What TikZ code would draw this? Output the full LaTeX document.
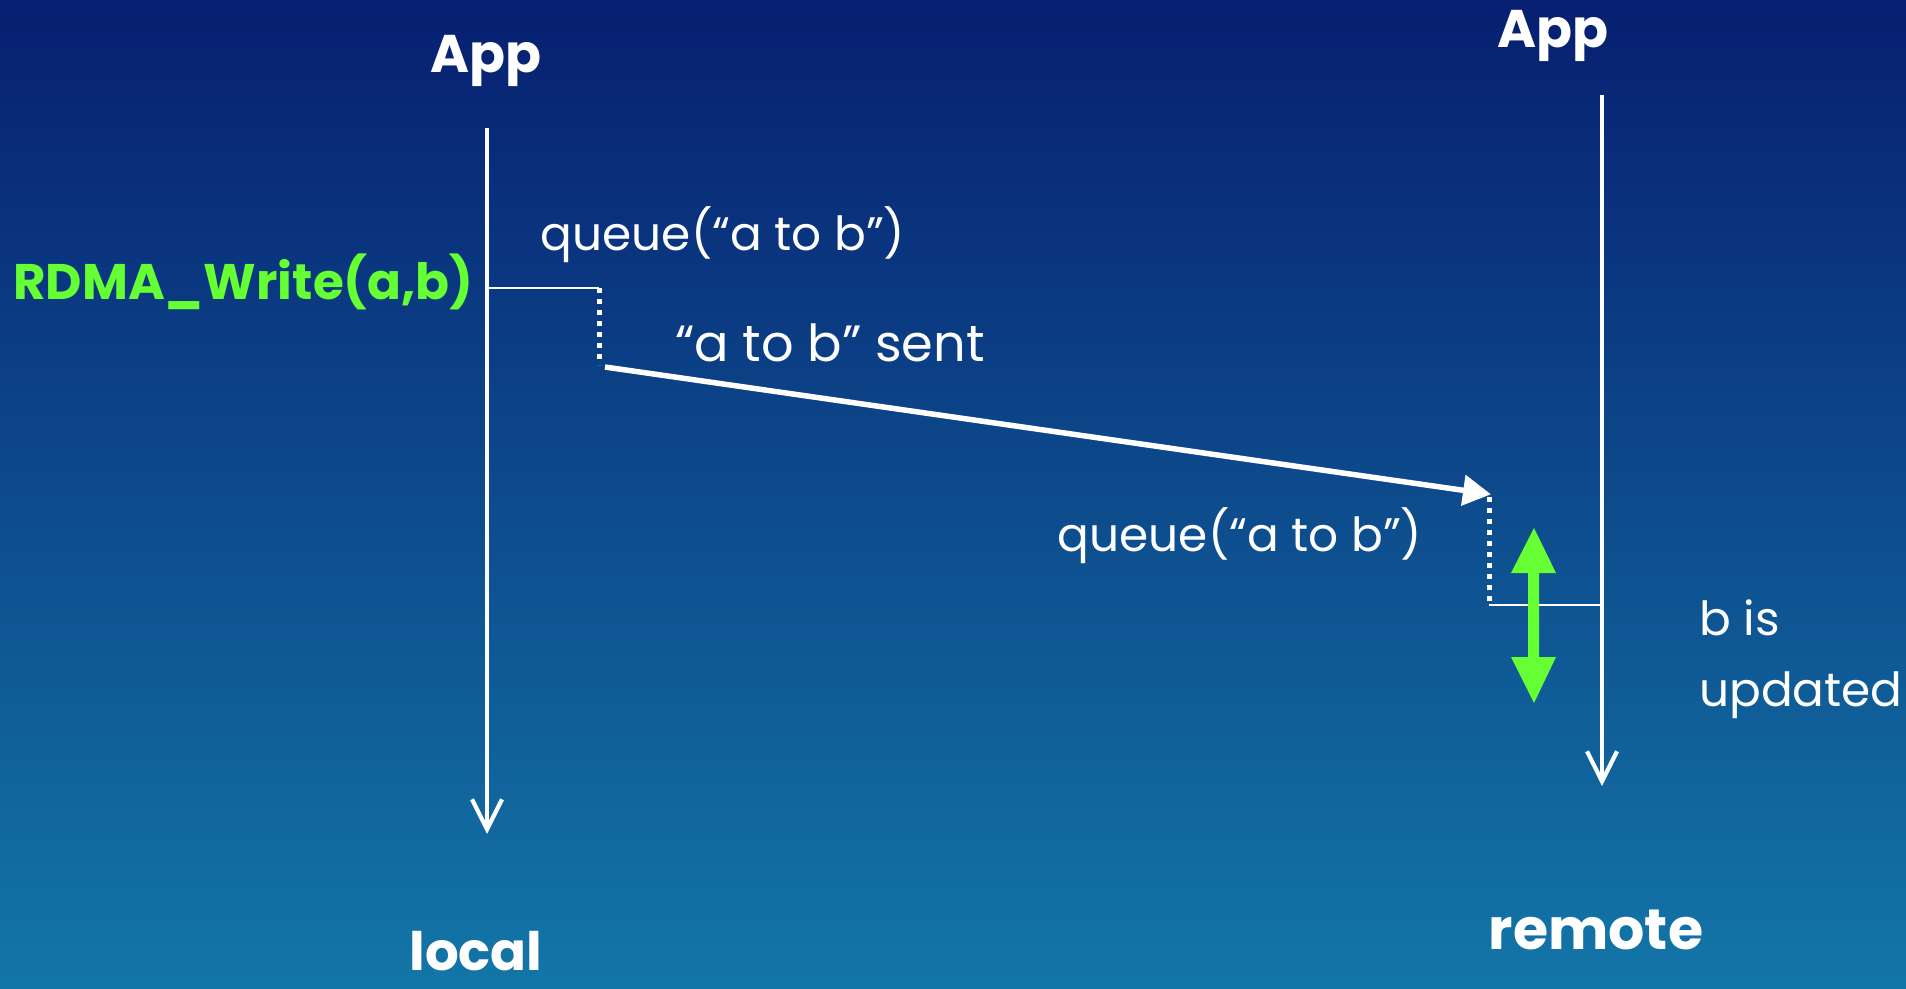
\documentclass[tikz,border=0pt]{standalone}
\usepackage{fontspec}
\setmainfont{Poppins}
\usetikzlibrary{arrows.meta}
\definecolor{bgtop}{RGB}{7,31,112}
\definecolor{bgbot}{RGB}{19,118,168}
\definecolor{hilite}{RGB}{102,255,51}
\tikzset{
  lbl/.style={text=white, inner sep=0pt, font=\fontsize{47}{54}\selectfont},
  role/.style={text=white, inner sep=0pt, font=\fontsize{53}{60}\selectfont\bfseries},
  lifeline/.style={draw=white, line width=4.2pt, -{Straight Barb[length=30pt,width=30pt,line width=4.2pt]}},
  thinline/.style={draw=white, line width=2.3pt},
  waitline/.style={draw=white, line width=5pt, dash pattern=on 5pt off 6pt},
  msg/.style={draw=white, line width=5.5pt, -{Triangle[length=28pt,width=30pt]}, shorten >=-2pt}
}
\begin{document}
\begin{tikzpicture}[x=1pt,y=-1pt]
  \useasboundingbox (0,0) rectangle (1906,988);
  \shade[top color=bgtop, bottom color=bgbot] (0,0) rectangle (1906,988);

  % participants
  \node[role] (appL) at (486,61) {App};
  \node[role] (appR) at (1553,36) {App};
  \node[role, anchor=base] (local) at (476,970) {local};
  \node[role, font=\fontsize{57}{64}\selectfont\bfseries] (remote) at (1596,930) {remote};

  % lifelines
  \coordinate (lTop) at (487,128);
  \coordinate (lBot) at (487,834);
  \coordinate (rTop) at (1602,95);
  \coordinate (rBot) at (1602,786);
  \draw[lifeline] (lTop) -- (lBot);
  \draw[lifeline] (rTop) -- (rBot);

  % local side: call and queueing
  \node[text=hilite, inner sep=0pt, font=\fontsize{50}{58}\selectfont\bfseries, anchor=east] (call) at (474,282) {RDMA\_Write(a,b)};
  \coordinate (callL) at (487,288);
  \coordinate (qL1) at (599,288);
  \coordinate (qL2) at (599,365);
  \draw[thinline] (callL) -- (qL1);
  \draw[waitline] (qL1) -- (qL2);
  \node[lbl] (queueL) at (723,235) {queue(“a to b”)};

  % transfer
  \coordinate (sendS) at (605,367);
  \coordinate (sendE) at (1489,494);
  \draw[msg] (sendS) -- (sendE);
  \node[lbl, font=\fontsize{51}{58}\selectfont] (sent) at (830,343) {“a to b” sent};

  % remote side: queueing and update
  \coordinate (qR1) at (1489,497);
  \coordinate (qR2) at (1489,605);
  \coordinate (updR) at (1602,605);
  \draw[waitline] (qR1) -- (qR2);
  \draw[thinline] (qR2) -- (updR);
  \node[lbl] (queueR) at (1240,536) {queue(“a to b”)};

  % update window
  \fill[hilite] (1534,528) -- (1556,573) -- (1539,573) -- (1539,657) -- (1556,657)
    -- (1534,703) -- (1511,657) -- (1528,657) -- (1528,573) -- (1511,573) -- cycle;

  \node[lbl, anchor=west] (bis) at (1699,618) {b is};
  \node[lbl, anchor=west] (upd) at (1699,695) {updated};
\end{tikzpicture}
\end{document}
